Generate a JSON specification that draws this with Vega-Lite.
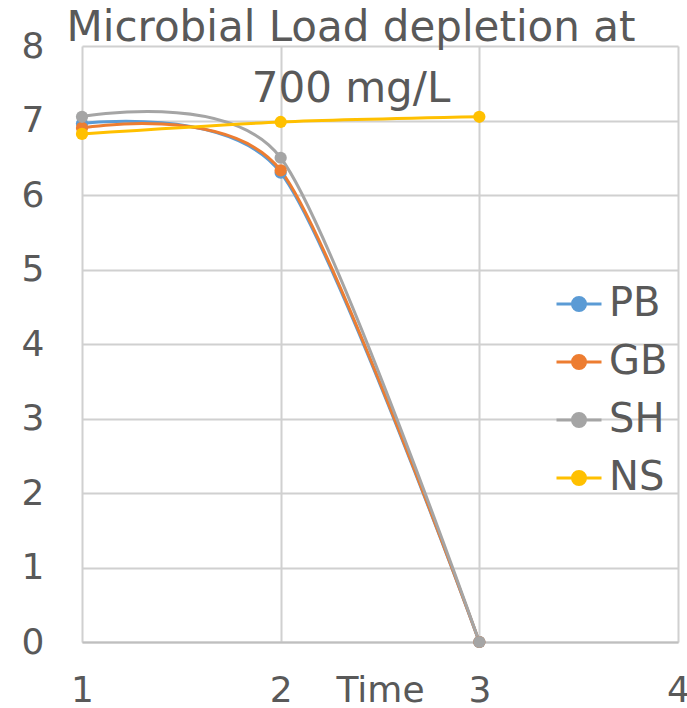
{
  "$schema": "https://vega.github.io/schema/vega-lite/v6.json",
  "width": 596,
  "height": 596,
  "autosize": "none",
  "padding": {"left": 82, "top": 46, "right": 9, "bottom": 66},
  "background": "white",
  "title": {
    "text": ["Microbial Load depletion at", "700 mg/L"],
    "font": "DejaVu Sans",
    "fontSize": 42,
    "fontWeight": "normal",
    "color": "#595959",
    "lineHeight": 61,
    "anchor": "middle",
    "dx": -29,
    "offset": -83
  },
  "config": {"view": {"stroke": null}},
  "data": {
    "values": [
      {"series": "PB", "time": 1, "load": 6.96},
      {"series": "PB", "time": 2, "load": 6.3},
      {"series": "PB", "time": 3, "load": 0},
      {"series": "GB", "time": 1, "load": 6.9},
      {"series": "GB", "time": 2, "load": 6.33},
      {"series": "GB", "time": 3, "load": 0},
      {"series": "SH", "time": 1, "load": 7.05},
      {"series": "SH", "time": 2, "load": 6.5},
      {"series": "SH", "time": 3, "load": 0},
      {"series": "NS", "time": 1, "load": 6.82},
      {"series": "NS", "time": 2, "load": 6.98},
      {"series": "NS", "time": 3, "load": 7.05}
    ]
  },
  "encoding": {
    "x": {
      "field": "time",
      "type": "quantitative",
      "scale": {"domain": [1, 4], "nice": false, "zero": false},
      "axis": {
        "values": [1, 2, 3, 4],
        "labelFont": "DejaVu Sans",
        "labelFontSize": 36,
        "labelColor": "#595959",
        "labelPadding": 31,
        "labelFlush": false,
        "ticks": false,
        "tickSize": 0,
        "domain": true,
        "domainColor": "#BFBFBF",
        "domainWidth": 2,
        "grid": true,
        "gridColor": "#D0D0D0",
        "gridWidth": 2,
        "title": "Time",
        "titleFont": "DejaVu Sans",
        "titleFontSize": 36,
        "titleFontWeight": "normal",
        "titleColor": "#595959",
        "titleX": 298,
        "titleY": 59,
        "titleBaseline": "alphabetic"
      }
    },
    "y": {
      "field": "load",
      "type": "quantitative",
      "scale": {"domain": [0, 8], "nice": false},
      "axis": {
        "values": [0, 1, 2, 3, 4, 5, 6, 7, 8],
        "labelFont": "DejaVu Sans",
        "labelFontSize": 36,
        "labelColor": "#595959",
        "labelPadding": 38,
        "ticks": false,
        "tickSize": 0,
        "domain": false,
        "grid": true,
        "gridColor": "#D0D0D0",
        "gridWidth": 2,
        "title": null
      }
    },
    "color": {
      "field": "series",
      "type": "nominal",
      "sort": ["PB", "GB", "SH", "NS"],
      "scale": {
        "domain": ["PB", "GB", "SH", "NS"],
        "range": ["#5B9BD5", "#ED7D31", "#A5A5A5", "#FFC000"]
      },
      "legend": {
        "title": null,
        "orient": "none",
        "legendX": 473,
        "legendY": 234,
        "padding": 0,
        "symbolType": "M-1,0L1,0M0.29,0A0.29,0.29,0,1,1,-0.29,0A0.29,0.29,0,1,1,0.29,0Z",
        "symbolSize": 2025,
        "symbolStrokeWidth": 3,
        "labelFont": "DejaVu Sans",
        "labelFontSize": 40,
        "labelColor": "#595959",
        "labelOffset": 6,
        "rowPadding": 14,
        "encode": {
          "symbols": {
            "update": {
              "fill": {"scale": "color", "field": "value"},
              "stroke": {"scale": "color", "field": "value"},
              "opacity": {"value": 1},
              "fillOpacity": {"value": 1}
            }
          }
        }
      }
    }
  },
  "layer": [
    {"mark": {"type": "line", "interpolate": "cardinal", "tension": 0.22, "strokeWidth": 3}},
    {"mark": {"type": "point", "filled": true, "size": 150, "opacity": 1}}
  ]
}
